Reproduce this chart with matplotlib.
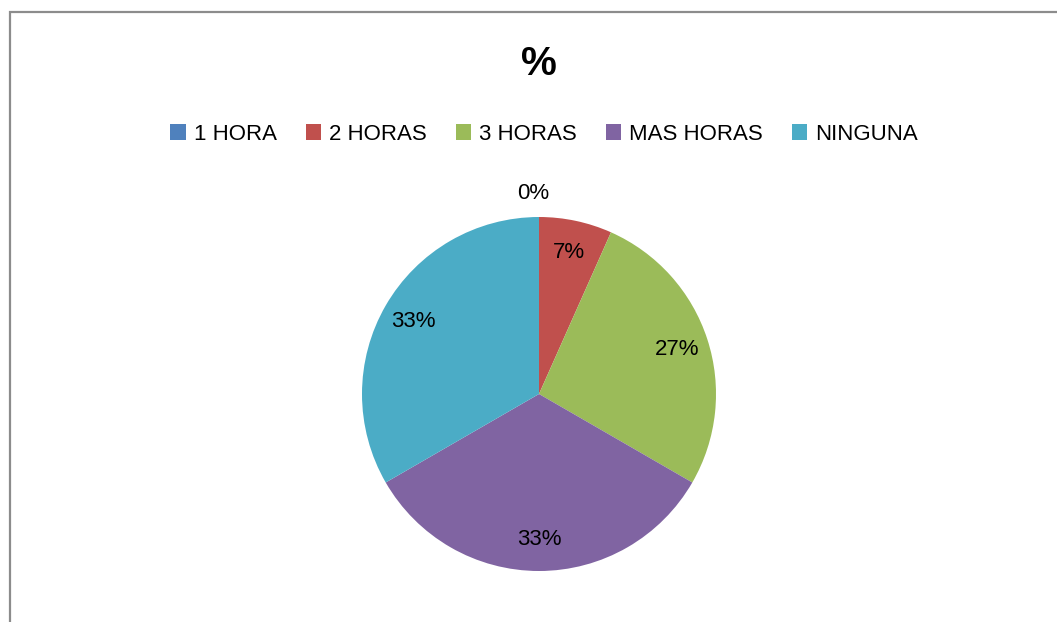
import matplotlib

matplotlib.use("Agg")
import matplotlib.pyplot as plt
from matplotlib.patches import Patch, Rectangle

plt.rcParams["font.family"] = ["Liberation Sans", "DejaVu Sans"]

categorias = ["1 HORA", "2 HORAS", "3 HORAS", "MAS HORAS", "NINGUNA"]
valores = [0, 2, 8, 10, 10]
colores = ["#4f81bd", "#c0504d", "#9bbb59", "#8064a2", "#4bacc6"]
titulo = "%"

W, H = 1057, 622
fig = plt.figure(figsize=(W / 100, H / 100), dpi=100)

# marco gris del grafico (solo se ven borde superior e izquierdo)
fig.patches.append(
    Rectangle(
        (9.5 / W, -0.1), 1.2, 1.1 - 11.5 / H,
        transform=fig.transFigure, fill=False,
        edgecolor="#8c8c8c", linewidth=1.6,
    )
)

cx, cy, r = 539, 394, 177
ax = fig.add_axes([(cx - r) / W, (H - cy - r) / H, 2 * r / W, 2 * r / H])

wedges, textos, pcts = ax.pie(
    valores,
    colors=colores,
    startangle=90,
    counterclock=False,
    autopct="%1.0f%%",
    pctdistance=0.82,
    wedgeprops={"linewidth": 0},
    textprops={"fontsize": 16, "color": "black"},
)
ax.set_aspect("equal")
ax.set_xlim(-1, 1)
ax.set_ylim(-1, 1)

# la etiqueta de 0% va fuera del pastel
pcts[0].set_position((-0.035, 1.13))

fig.text(cx / W, 1 - 64 / H, titulo, ha="center", va="center",
         fontsize=29, fontweight="bold")

handles = [Patch(facecolor=c, edgecolor="none") for c in colores]
fig.legend(
    handles, categorias,
    loc="center", bbox_to_anchor=(544 / W, 1 - 134 / H),
    ncol=5, frameon=False, fontsize=16,
    handlelength=0.7, handleheight=0.7,
    handletextpad=0.35, columnspacing=1.3,
)

fig.savefig("out.png", dpi=100, facecolor="white")
